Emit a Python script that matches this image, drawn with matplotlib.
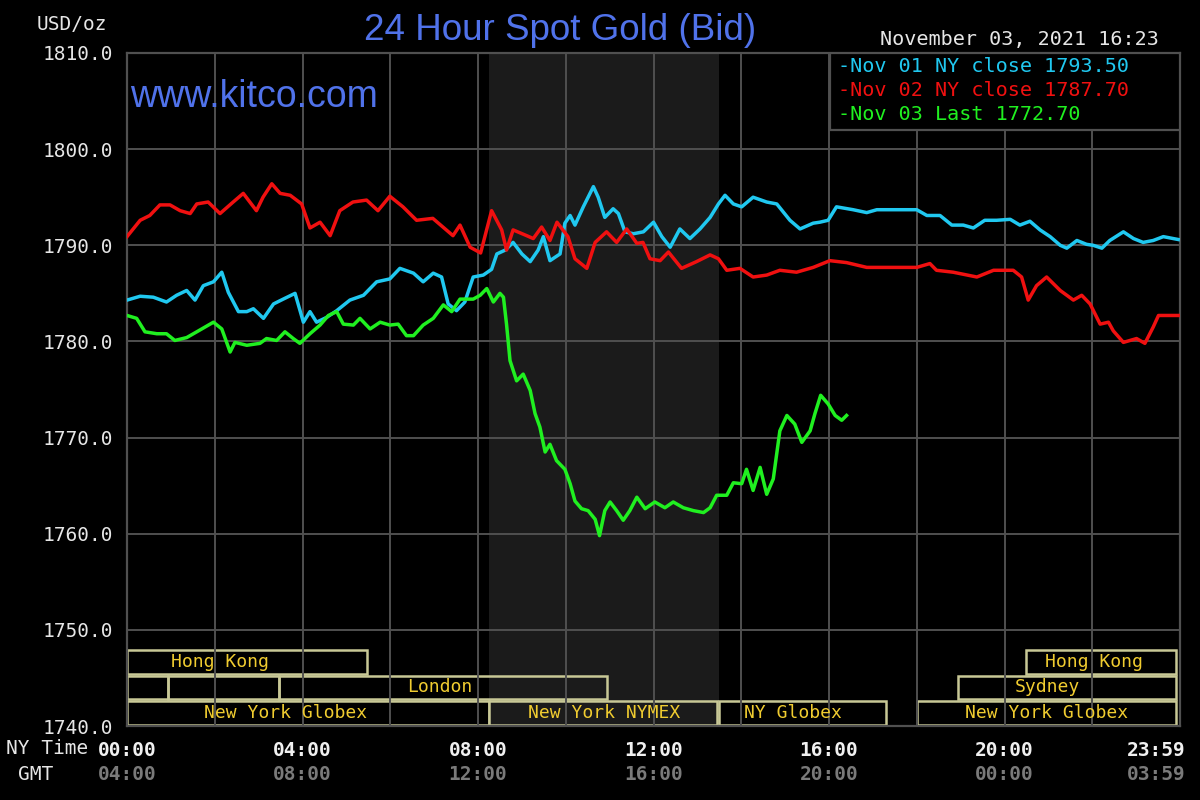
import matplotlib
matplotlib.use("Agg")
import matplotlib.pyplot as plt
from matplotlib.patches import Rectangle

# hours (NY time) and bid prices
nov01_hours = [0, 0.30, 0.60, 0.90, 1.13, 1.36, 1.55, 1.74, 1.97, 2.16, 2.31, 2.54, 2.73, 2.88, 3.11,
               3.34, 3.56, 3.83, 4.02, 4.17, 4.32, 4.55, 4.78, 5.08, 5.39, 5.69, 5.99, 6.22, 6.53,
               6.75, 6.98, 7.17, 7.32, 7.51, 7.70, 7.89, 8.12, 8.31, 8.43, 8.62, 8.80, 9.00, 9.19,
               9.37, 9.49, 9.64, 9.87, 9.98, 10.10, 10.21, 10.40, 10.63, 10.74, 10.89, 11.08, 11.20,
               11.35, 11.54, 11.77, 12.00, 12.19, 12.38, 12.60, 12.83, 13.06, 13.29, 13.48, 13.63,
               13.82, 14.01, 14.27, 14.58, 14.81, 15.11, 15.34, 15.64, 15.79, 15.98, 16.17, 16.55,
               16.86, 17.09, 18.00, 18.23, 18.53, 18.80, 19.06, 19.29, 19.55, 19.82, 20.13, 20.35,
               20.58, 20.81, 21.04, 21.27, 21.42, 21.65, 21.87, 22.02, 22.22, 22.40, 22.71, 22.94,
               23.16, 23.39, 23.62, 23.96]
nov01_price = [1784.3, 1784.7, 1784.6, 1784.1, 1784.8, 1785.3, 1784.3, 1785.8, 1786.2, 1787.2, 1785.1,
               1783.1, 1783.1, 1783.4, 1782.4, 1783.9, 1784.4, 1785.0, 1782.0, 1783.1, 1782.0, 1782.5,
               1783.2, 1784.3, 1784.8, 1786.2, 1786.5, 1787.6, 1787.1, 1786.2, 1787.1, 1786.7, 1783.9,
               1783.2, 1784.1, 1786.7, 1786.9, 1787.5, 1789.1, 1789.5, 1790.3, 1789.1, 1788.3, 1789.5,
               1790.9, 1788.4, 1789.1, 1792.3, 1793.1, 1792.1, 1794.0, 1796.1, 1795.0, 1792.9, 1793.8,
               1793.3, 1791.4, 1791.2, 1791.4, 1792.4, 1790.9, 1789.8, 1791.7, 1790.7, 1791.7, 1792.9,
               1794.3, 1795.2, 1794.3, 1794.0, 1795.0, 1794.5, 1794.3, 1792.6, 1791.7, 1792.3, 1792.4,
               1792.6, 1794.0, 1793.7, 1793.4, 1793.7, 1793.7, 1793.1, 1793.1, 1792.1, 1792.1, 1791.8,
               1792.6, 1792.6, 1792.7, 1792.1, 1792.5, 1791.6, 1790.9, 1790.0, 1789.7, 1790.5, 1790.1,
               1790.0, 1789.7, 1790.5, 1791.4, 1790.7, 1790.3, 1790.5, 1790.9, 1790.6]

nov02_hours = [0, 0.30, 0.52, 0.75, 0.98, 1.21, 1.44, 1.59, 1.85, 2.12, 2.42, 2.65, 2.95, 3.10, 3.30,
               3.49, 3.72, 3.98, 4.17, 4.40, 4.63, 4.85, 5.15, 5.46, 5.72, 5.99, 6.29, 6.60, 6.97,
               7.43, 7.59, 7.82, 8.06, 8.31, 8.54, 8.65, 8.80, 9.11, 9.26, 9.45, 9.64, 9.80, 10.05,
               10.21, 10.48, 10.67, 10.93, 11.16, 11.39, 11.62, 11.76, 11.92, 12.15, 12.34, 12.64,
               12.98, 13.29, 13.48, 13.67, 13.97, 14.27, 14.58, 14.88, 15.26, 15.64, 16.02, 16.40,
               16.86, 17.31, 18.00, 18.30, 18.45, 18.83, 19.37, 19.75, 20.20, 20.39, 20.54, 20.73,
               20.96, 21.27, 21.57, 21.76, 21.95, 22.18, 22.37, 22.48, 22.71, 23.01, 23.20, 23.39,
               23.51, 23.77, 23.96]
nov02_price = [1790.9, 1792.6, 1793.1, 1794.2, 1794.2, 1793.6, 1793.3, 1794.3, 1794.5, 1793.3, 1794.5,
               1795.4, 1793.6, 1795.0, 1796.4, 1795.4, 1795.2, 1794.3, 1791.8, 1792.4, 1791.0, 1793.6,
               1794.5, 1794.7, 1793.6, 1795.1, 1794.0, 1792.6, 1792.8, 1791.0, 1792.1, 1789.8, 1789.2,
               1793.6, 1791.6, 1789.5, 1791.6, 1791.0, 1790.7, 1791.9, 1790.5, 1792.4, 1790.9, 1788.6,
               1787.6, 1790.3, 1791.4, 1790.3, 1791.7, 1790.2, 1790.3, 1788.6, 1788.4, 1789.3, 1787.6,
               1788.3, 1789.0, 1788.6, 1787.4, 1787.6, 1786.7, 1786.9, 1787.4, 1787.2, 1787.7, 1788.4,
               1788.2, 1787.7, 1787.7, 1787.7, 1788.1, 1787.4, 1787.2, 1786.7, 1787.4, 1787.4, 1786.7,
               1784.3, 1785.8, 1786.7, 1785.3, 1784.3, 1784.8, 1783.9, 1781.8, 1782.0, 1781.1, 1779.9,
               1780.3, 1779.8, 1781.5, 1782.7, 1782.7, 1782.7]

nov03_hours = [0, 0.22, 0.41, 0.68, 0.90, 1.09, 1.36, 1.59, 1.78, 1.97, 2.16, 2.35, 2.46, 2.73, 3.03,
               3.18, 3.41, 3.60, 3.79, 3.94, 4.17, 4.40, 4.59, 4.78, 4.93, 5.16, 5.31, 5.54, 5.77,
               5.99, 6.18, 6.37, 6.53, 6.75, 6.98, 7.21, 7.40, 7.59, 7.89, 8.05, 8.20, 8.35, 8.50,
               8.58, 8.65, 8.73, 8.88, 9.03, 9.19, 9.30, 9.41, 9.53, 9.64, 9.79, 9.98, 10.10, 10.21,
               10.36, 10.51, 10.67, 10.77, 10.89, 11.01, 11.16, 11.31, 11.46, 11.62, 11.81, 12.03,
               12.26, 12.45, 12.68, 12.91, 13.14, 13.29, 13.44, 13.67, 13.82, 14.01, 14.12, 14.27,
               14.43, 14.58, 14.73, 14.88, 15.04, 15.22, 15.38, 15.57, 15.68, 15.81, 15.98, 16.14,
               16.29, 16.40]
nov03_price = [1782.7, 1782.4, 1781.0, 1780.8, 1780.8, 1780.1, 1780.4, 1781.0, 1781.5, 1782.0, 1781.3,
               1778.9, 1779.9, 1779.6, 1779.8, 1780.3, 1780.1, 1781.0, 1780.3, 1779.8, 1780.8, 1781.7,
               1782.7, 1783.1, 1781.8, 1781.7, 1782.4, 1781.3, 1782.0, 1781.7, 1781.8, 1780.6, 1780.6,
               1781.7, 1782.4, 1783.8, 1783.1, 1784.4, 1784.4, 1784.8, 1785.5, 1784.1, 1785.0, 1784.6,
               1781.8, 1778.0, 1775.9, 1776.6, 1774.9, 1772.5, 1771.1, 1768.5, 1769.3, 1767.6, 1766.7,
               1765.2, 1763.4, 1762.6, 1762.4, 1761.5, 1759.8, 1762.4, 1763.3, 1762.4, 1761.4, 1762.4,
               1763.8, 1762.6, 1763.3, 1762.7, 1763.3, 1762.7, 1762.4, 1762.2, 1762.7, 1764.0, 1764.0,
               1765.3, 1765.2, 1766.7, 1764.5, 1766.9, 1764.1, 1765.7, 1770.7, 1772.3, 1771.4, 1769.5,
               1770.7, 1772.5, 1774.4, 1773.5, 1772.3, 1771.8, 1772.3]

legend_labels = ["Nov 01 NY close 1793.50", "Nov 02 NY close 1787.70", "Nov 03 Last 1772.70"]

ny_ticks = [0, 4, 8, 12, 16, 20, 23.45]
ny_labels = ["00:00", "04:00", "08:00", "12:00", "16:00", "20:00", "23:59"]
gmt_labels = ["04:00", "08:00", "12:00", "16:00", "20:00", "00:00", "03:59"]

# trading sessions: name, start hour, end hour, row (0 = bottom)
sessions = [
    ("Hong Kong", 0, 5.47, 2), ("", 0, 0.93, 1), ("", 0.93, 3.47, 1), ("London", 3.47, 10.93, 1),
    ("New York Globex", 0, 8.25, 0), ("New York NYMEX", 8.25, 13.45, 0), ("NY Globex", 13.5, 17.3, 0),
    ("New York Globex", 18.0, 23.9, 0), ("Sydney", 18.95, 23.9, 1), ("Hong Kong", 20.48, 23.9, 2),
]
session_text_x = [2.12, None, None, 7.13, 3.62, 10.87, 15.18, 20.95, 20.97, 22.04]

nymex_start, nymex_end = 8.25, 13.5

BG = "black"
GRID = "#505050"
BOX = "#c8c896"
BOX_TXT = "#f0cc30"
BLUE = "#5072ea"
MONO = "DejaVu Sans Mono"

fig = plt.figure(figsize=(12, 8), dpi=100, facecolor=BG)
ax = fig.add_axes([127 / 1200, 74 / 800, 1053 / 1200, 673 / 800])
ax.set_facecolor(BG)
ax.set_xlim(0, 24)
ax.set_ylim(1740, 1810)

# NYMEX shading
ax.axvspan(nymex_start, nymex_end, color="#1b1b1b", zorder=0, lw=0)

ax.set_yticks(range(1740, 1811, 10))
ax.set_yticklabels([f"{v:.1f}" for v in range(1740, 1811, 10)], family=MONO, fontsize=14,
                   color="#e6e6e6")
ax.set_xticks(ny_ticks)
ax.set_xticklabels(ny_labels, family=MONO, fontsize=14, color="#f0f0f0", fontweight="bold")
ax.tick_params(axis="both", which="both", length=0)
ax.tick_params(axis="y", pad=10)
ax.tick_params(axis="x", pad=11)
ax.grid(False)
for v in range(1750, 1810, 10):
    ax.axhline(v, color=GRID, lw=1.4, zorder=1)
for h in range(2, 24, 2):
    ax.axvline(h, color=GRID, lw=1.4, zorder=3)
for s in ax.spines.values():
    s.set_color(GRID)
    s.set_linewidth(1.6)

# session boxes
row_h = 0.0355
for (name, h0, h1, row), tx in zip(sessions, session_text_x):
    y0 = 0.002 + row * 0.0375
    fc = "#1b1b1b" if name == "New York NYMEX" else "none"
    ax.add_patch(Rectangle((h0, y0), h1 - h0, row_h, transform=ax.get_xaxis_transform(),
                           facecolor=fc, edgecolor=BOX, lw=1.8, zorder=2, clip_on=False))
    if name:
        ax.text(tx, y0 + row_h / 2, name, transform=ax.get_xaxis_transform(), ha="center",
                va="center", family=MONO, fontsize=13, color=BOX_TXT, zorder=4)

# price lines
ax.plot(nov01_hours, nov01_price, color="#20c8f0", lw=2.5, zorder=5)
ax.plot(nov02_hours, nov02_price, color="#f01010", lw=2.5, zorder=5)
ax.plot(nov03_hours, nov03_price, color="#20f020", lw=2.5, zorder=5)

# legend box
ax.add_patch(Rectangle((0.6676, 0.8856), 0.3324, 0.1144, transform=ax.transAxes,
                       facecolor=BG, edgecolor=GRID, lw=1.6, zorder=6))
for i, (lab, col) in enumerate(zip(legend_labels, ["#20c8f0", "#f01010", "#20f020"])):
    fig.text(838 / 1200, 1 - (67 + i * 23.5) / 800, "-" + lab, family=MONO, fontsize=14.5,
             color=col, va="center", ha="left", zorder=7)

# GMT row
for h, lab in zip(ny_ticks, gmt_labels):
    ax.text(h, -49 / 673, lab, transform=ax.get_xaxis_transform(), ha="center", va="center",
            family=MONO, fontsize=14, color="#7a7a7a", fontweight="bold")
fig.text(88 / 1200, 1 - 748 / 800, "NY Time", family=MONO, fontsize=14, color="#e6e6e6",
         ha="right", va="center")
fig.text(36 / 1200, 1 - 774 / 800, "GMT", family=MONO, fontsize=14, color="#e6e6e6",
         ha="center", va="center")

fig.text(37 / 1200, 1 - 25 / 800, "USD/oz", family=MONO, fontsize=14, color="#e6e6e6",
         ha="left", va="center")
fig.text(560 / 1200, 1 - 31 / 800, "24 Hour Spot Gold (Bid)", family="Liberation Sans",
         fontsize=26.5, color=BLUE, ha="center", va="center")
fig.text(1159 / 1200, 1 - 39 / 800, "November 03, 2021 16:23", family=MONO, fontsize=14.5,
         color="#e6e6e6", ha="right", va="center")
ax.text(0.003, 0.935, "www.kitco.com", transform=ax.transAxes, family="Liberation Sans",
        fontsize=27, color=BLUE, ha="left", va="center", zorder=4)

fig.savefig("out.png", dpi=100, facecolor=BG)
